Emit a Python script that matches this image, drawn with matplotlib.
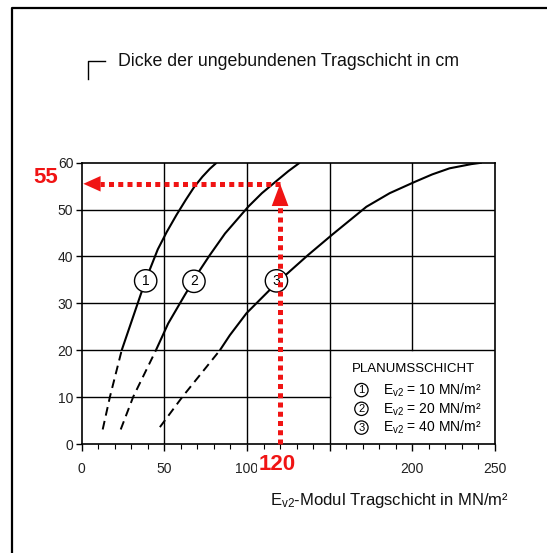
import matplotlib
matplotlib.use("Agg")
import matplotlib.pyplot as plt
from matplotlib.lines import Line2D

plt.rcParams['font.family'] = ['Liberation Sans', 'DejaVu Sans']
plt.rcParams['mathtext.default'] = 'regular'

# ---------------- data ----------------
x_ticks = [0, 50, 100, 150, 200, 250]
x_tick_labels = ['0', '50', '100', '', '200', '250']
y_ticks = [0, 10, 20, 30, 40, 50, 60]

# curve 1 (Ev2 = 10 MN/m2)
c1_dash_x = [12.7, 17.1, 24.2]
c1_dash_y = [3.1, 10.1, 20.0]
c1_x = [24.2, 30.2, 35.8, 41.3, 46.0, 51.4, 57.4, 63.0, 68.0, 73.0, 77.5, 81.6]
c1_y = [20.0, 26.2, 32.0, 37.3, 41.5, 45.2, 48.9, 52.1, 54.8, 57.0, 58.7, 60.0]

# curve 2 (Ev2 = 20 MN/m2)
c2_dash_x = [23.6, 31.2, 44.9]
c2_dash_y = [3.1, 10.1, 20.0]
c2_x = [44.9, 52.3, 62.4, 71.5, 77.5, 86.7, 100.7, 109.0, 117.8, 125.0, 131.9]
c2_y = [20.0, 25.7, 31.8, 37.1, 40.3, 44.9, 50.6, 53.5, 56.1, 58.2, 60.0]

# curve 3 (Ev2 = 40 MN/m2)
c3_dash_x = [47.3, 61.0, 83.6]
c3_dash_y = [3.6, 10.1, 20.0]
c3_x = [83.6, 89.6, 99.7, 117.8, 136.9, 151.7, 172.2, 186.3, 201.4, 212.0, 222.5, 235.7, 242.0]
c3_y = [20.0, 23.2, 27.9, 34.3, 40.3, 44.7, 50.6, 53.5, 55.9, 57.5, 58.8, 59.7, 60.0]

curve_labels = ['1', '2', '3']
label_x = [38.7, 67.9, 117.8]
label_y = [34.8, 34.7, 34.8]

legend_title = 'PLANUMSSCHICHT'
legend_values = [10, 20, 40]

target_x = 120
target_y = 55.5
target_x_label = '120'
target_y_label = '55'

# ---------------- figure ----------------
W, H = 547, 553
fig = plt.figure(figsize=(W / 100, H / 100), dpi=100)
ax = fig.add_axes([81.7 / W, 1 - 444 / H, (495 - 81.7) / W, (444 - 162.7) / H])
ax.set_xlim(0, 250)
ax.set_ylim(0, 60)

for s in ax.spines.values():
    s.set_linewidth(1.2)
    s.set_color('black')

# grid (legend cell is kept clear)
for y in y_ticks[1:-1]:
    xmax = 150 if y == 10 else 250
    ax.plot([0, xmax], [y, y], color='black', lw=1.0, zorder=1)
for x in x_ticks[1:-1]:
    ymin = 20 if x == 200 else 0
    ax.plot([x, x], [ymin, 60], color='black', lw=1.0, zorder=1)

ax.set_xticks(x_ticks)
ax.set_xticklabels(x_tick_labels)
ax.set_xticks(range(0, 251, 10), minor=True)
ax.set_yticks(y_ticks)
ax.tick_params(axis='x', which='major', direction='out', length=5, width=1, pad=8,
               labelsize=10, labelcolor='#222222')
ax.tick_params(axis='x', which='minor', direction='out', length=3.5, width=0.8)
ax.tick_params(axis='y', which='major', direction='out', length=4, width=1, pad=2,
               labelsize=10, labelcolor='#222222')

# curves
for dx, dy, sx, sy in [(c1_dash_x, c1_dash_y, c1_x, c1_y),
                       (c2_dash_x, c2_dash_y, c2_x, c2_y),
                       (c3_dash_x, c3_dash_y, c3_x, c3_y)]:
    ax.plot(dx, dy, color='black', lw=1.4, dashes=(4.5, 2.8), zorder=3)
    ax.plot(sx, sy, color='black', lw=1.5, zorder=3, solid_capstyle='butt',
            solid_joinstyle='round')

for lab, lx, ly in zip(curve_labels, label_x, label_y):
    ax.text(lx, ly, lab, ha='center', va='center', fontsize=10, zorder=5,
            bbox=dict(boxstyle='circle,pad=0.3', fc='white', ec='black', lw=1.0))

# legend in lower-right cell
ax.text(163.2, 16.0, legend_title, ha='left', va='center', fontsize=9.5, zorder=5)
for i, v in enumerate(legend_values):
    yy = 11.5 - i * 4.0
    ax.text(169.2, yy, str(i + 1), ha='center', va='center', fontsize=8, zorder=5,
            bbox=dict(boxstyle='circle,pad=0.15', fc='white', ec='black', lw=0.9))
    ax.text(182.1, yy, 'E$_{v2}$ = %d MN/m\u00b2' % v, ha='left', va='center',
            fontsize=10, zorder=5)

# red annotation
red = '#f01414'
ax.plot([target_x, target_x], [0, target_y - 4.0], color=red, lw=3.6,
        dashes=(1, 0.85), dash_capstyle='butt', zorder=6, clip_on=False)
ax.plot([target_x, 11], [target_y, target_y], color=red, lw=3.6,
        dashes=(1, 0.85), dash_capstyle='butt', zorder=6, clip_on=False)
ax.annotate('', xy=(target_x, target_y), xytext=(target_x, target_y - 4.6),
            arrowprops=dict(arrowstyle='-|>,head_length=0.8,head_width=0.3',
                            color=red, lw=0, mutation_scale=20, shrinkA=0, shrinkB=0),
            zorder=7, annotation_clip=False)
ax.annotate('', xy=(1, target_y), xytext=(11.5, target_y),
            arrowprops=dict(arrowstyle='-|>,head_length=0.62,head_width=0.28',
                            color=red, lw=0, mutation_scale=20, shrinkA=0, shrinkB=0),
            zorder=7, annotation_clip=False)

fig.text(46 / W, 1 - 177.5 / H, target_y_label, color=red, fontsize=16, fontweight='bold',
         ha='center', va='center')
fig.text(277 / W, 1 - 465 / H, target_x_label, color=red, fontsize=16, fontweight='bold',
         ha='center', va='center',
         bbox=dict(boxstyle='square,pad=0.05', fc='white', ec='none'))

# titles
fig.text(117.5 / W, 1 - 62 / H, 'Dicke der ungebundenen Tragschicht in cm',
         fontsize=12.8, ha='left', va='center', color='#111111')
fig.text(509 / W, 1 - 500 / H, 'E$_{v2}$-Modul Tragschicht in MN/m\u00b2',
         fontsize=12, ha='right', va='center', color='#111111')

# bracket symbol and page frame
fig.add_artist(Line2D([88 / W, 88 / W, 105 / W], [1 - 79 / H, 1 - 61 / H, 1 - 61 / H],
                      transform=fig.transFigure, color='black', lw=1.0))
fig.add_artist(Line2D([12 / W, 12 / W, 1.0], [0.0, 1 - 8 / H, 1 - 8 / H],
                      transform=fig.transFigure, color='black', lw=1.6))

fig.savefig('out.png', dpi=100)
